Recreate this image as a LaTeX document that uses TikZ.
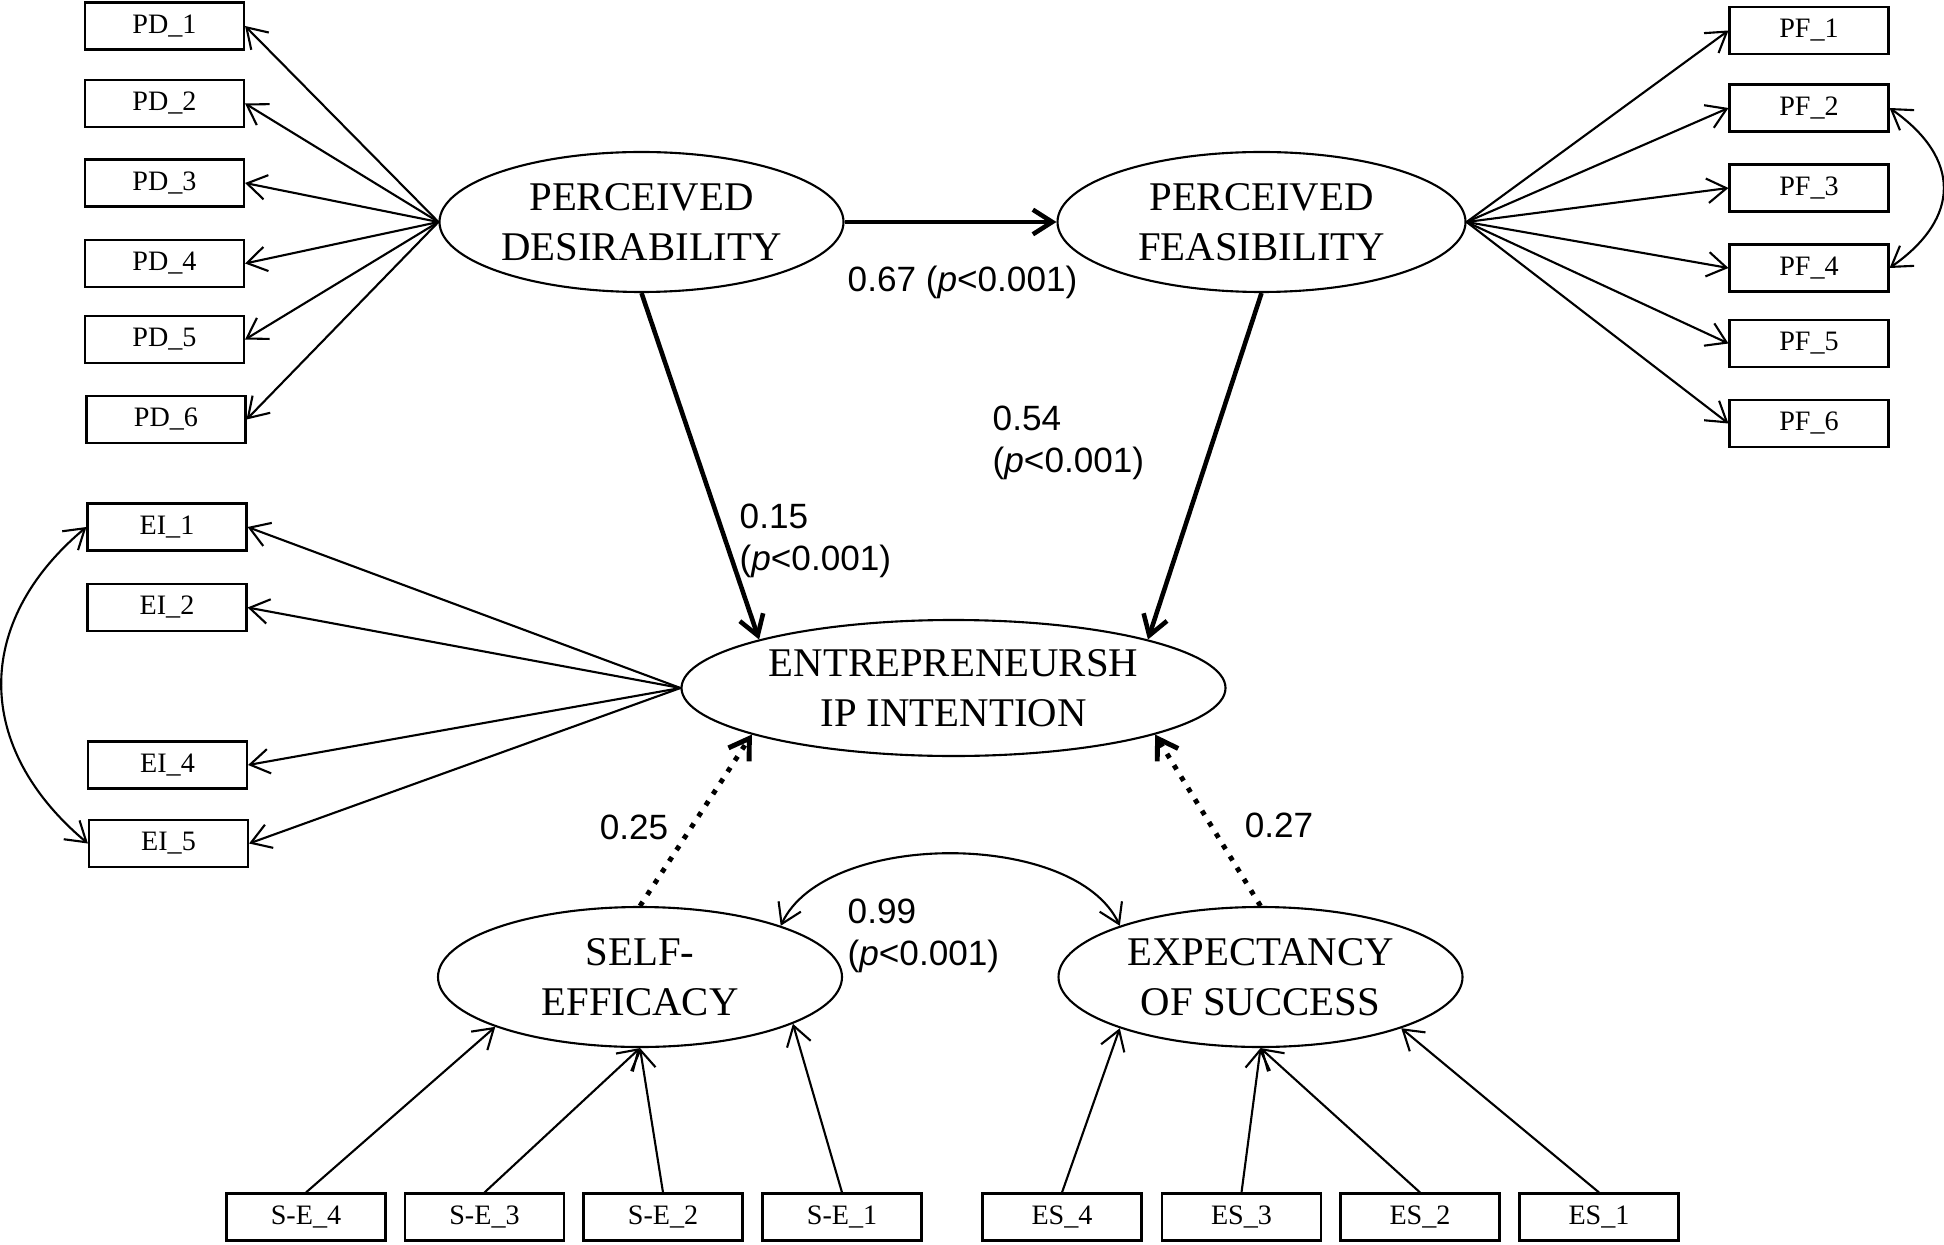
\documentclass[tikz,border=0pt]{standalone}
\usepackage{fontspec}
\setmainfont{Liberation Serif}
\newfontfamily\labfont{Liberation Sans}
\usetikzlibrary{shapes.geometric,arrows.meta}

\begin{document}
\begin{tikzpicture}[
  >={Straight Barb[length=5.5pt,width=7pt]},
  obs/.style={draw,line width=0.6pt,minimum width=1.59cm,minimum height=0.47cm,inner sep=0pt,font=\fontsize{8}{9}\selectfont},
  lat/.style={draw,ellipse,line width=0.6pt,minimum width=4.04cm,minimum height=1.40cm,inner sep=0pt,align=center,font=\fontsize{11.6}{14.2}\selectfont},
  coef/.style={inner sep=0pt,align=left,font=\labfont\fontsize{10}{12}\selectfont},
  load/.style={->,line width=0.6pt},
  regr/.style={->,line width=1.3pt},
  dotreg/.style={->,line width=1.4pt,dash pattern=on 1.4pt off 2.4pt},
  cov/.style={<->,line width=0.6pt}]
\useasboundingbox (0,0) rectangle (19.44,-12.45);

% latent variables
\node[lat] (PD) at (6.415,-2.22) {PERCEIVED\\DESIRABILITY};
\node[lat,minimum width=4.08cm] (PF) at (12.615,-2.22) {PERCEIVED\\FEASIBILITY};
\node[lat,minimum width=5.44cm,minimum height=1.36cm] (EI) at (9.535,-6.88) {ENTREPRENEURSH\\IP INTENTION};
\node[lat] (SE) at (6.40,-9.77) {SELF-\\EFFICACY};
\node[lat] (ES) at (12.605,-9.77) {EXPECTANCY\\OF SUCCESS};

% indicators
\node[obs] (PD1) at (1.645,-0.26) {PD\_1};
\node[obs] (PD2) at (1.645,-1.035) {PD\_2};
\node[obs] (PD3) at (1.645,-1.83) {PD\_3};
\node[obs] (PD4) at (1.645,-2.635) {PD\_4};
\node[obs] (PD5) at (1.645,-3.395) {PD\_5};
\node[obs] (PD6) at (1.66,-4.195) {PD\_6};

\node[obs] (PF1) at (18.09,-0.305) {PF\_1};
\node[obs] (PF2) at (18.09,-1.08) {PF\_2};
\node[obs] (PF3) at (18.09,-1.88) {PF\_3};
\node[obs] (PF4) at (18.09,-2.68) {PF\_4};
\node[obs] (PF5) at (18.09,-3.435) {PF\_5};
\node[obs] (PF6) at (18.09,-4.235) {PF\_6};

\node[obs] (EI1) at (1.67,-5.27) {EI\_1};
\node[obs] (EI2) at (1.67,-6.075) {EI\_2};
\node[obs] (EI4) at (1.675,-7.65) {EI\_4};
\node[obs] (EI5) at (1.685,-8.435) {EI\_5};

\node[obs] (SE4) at (3.06,-12.17) {S-E\_4};
\node[obs] (SE3) at (4.845,-12.17) {S-E\_3};
\node[obs] (SE2) at (6.63,-12.17) {S-E\_2};
\node[obs] (SE1) at (8.42,-12.17) {S-E\_1};

\node[obs] (ES4) at (10.62,-12.17) {ES\_4};
\node[obs] (ES3) at (12.415,-12.17) {ES\_3};
\node[obs] (ES2) at (14.20,-12.17) {ES\_2};
\node[obs] (ES1) at (15.99,-12.17) {ES\_1};

% loadings
\draw[load] (PD.west) -- (PD1.east);
\draw[load] (PD.west) -- (PD2.east);
\draw[load] (PD.west) -- (PD3.east);
\draw[load] (PD.west) -- (PD4.east);
\draw[load] (PD.west) -- (PD5.east);
\draw[load] (PD.west) -- (PD6.east);

\draw[load] (PF.east) -- (PF1.west);
\draw[load] (PF.east) -- (PF2.west);
\draw[load] (PF.east) -- (PF3.west);
\draw[load] (PF.east) -- (PF4.west);
\draw[load] (PF.east) -- (PF5.west);
\draw[load] (PF.east) -- (PF6.west);

\draw[load] (EI.west) -- (EI1.east);
\draw[load] (EI.west) -- (EI2.east);
\draw[load] (EI.west) -- (EI4.east);
\draw[load] (EI.west) -- (EI5.east);

\draw[load] (SE4.north) -- (SE.199);
\draw[load] (SE3.north) -- (SE.south);
\draw[load] (SE2.north) -- (SE.south);
\draw[load] (SE1.north) -- (SE.343);

\draw[load] (ES4.north) -- (ES.200);
\draw[load] (ES3.north) -- (ES.south);
\draw[load] (ES2.north) -- (ES.south);
\draw[load] (ES1.north) -- (ES.340);

% error covariances
\draw[cov] (PF2.east) to[out=-35,in=35,looseness=1.4] (PF4.east);
\draw[cov] (EI1.west) to[out=220,in=140,looseness=1.2] (EI5.west);
\draw[cov] (SE.20) to[out=65,in=115,looseness=0.8] (ES.160);

% structural paths
\draw[regr] (PD.east) -- (PF.west);
\draw[regr] (PD.south) -- (EI.166);
\draw[regr] (PF.south) -- (EI.14);
\draw[dotreg] (SE.north) -- (EI.193);
\draw[dotreg] (ES.north) -- (EI.347);

\node[coef,anchor=base west] (c67) at (8.47,-2.92) {0.67 (\textit{p}<0.001)};
\node[coef,anchor=north west] (c54) at (9.92,-4.05) {0.54\\(\textit{p}<0.001)};
\node[coef,anchor=north west] (c15) at (7.39,-5.03) {0.15\\(\textit{p}<0.001)};
\node[coef] (c25) at (6.34,-8.27) {0.25};
\node[coef] (c27) at (12.79,-8.25) {0.27};
\node[coef,anchor=north west] (c99) at (8.47,-8.98) {0.99\\(\textit{p}<0.001)};
\end{tikzpicture}
\end{document}
